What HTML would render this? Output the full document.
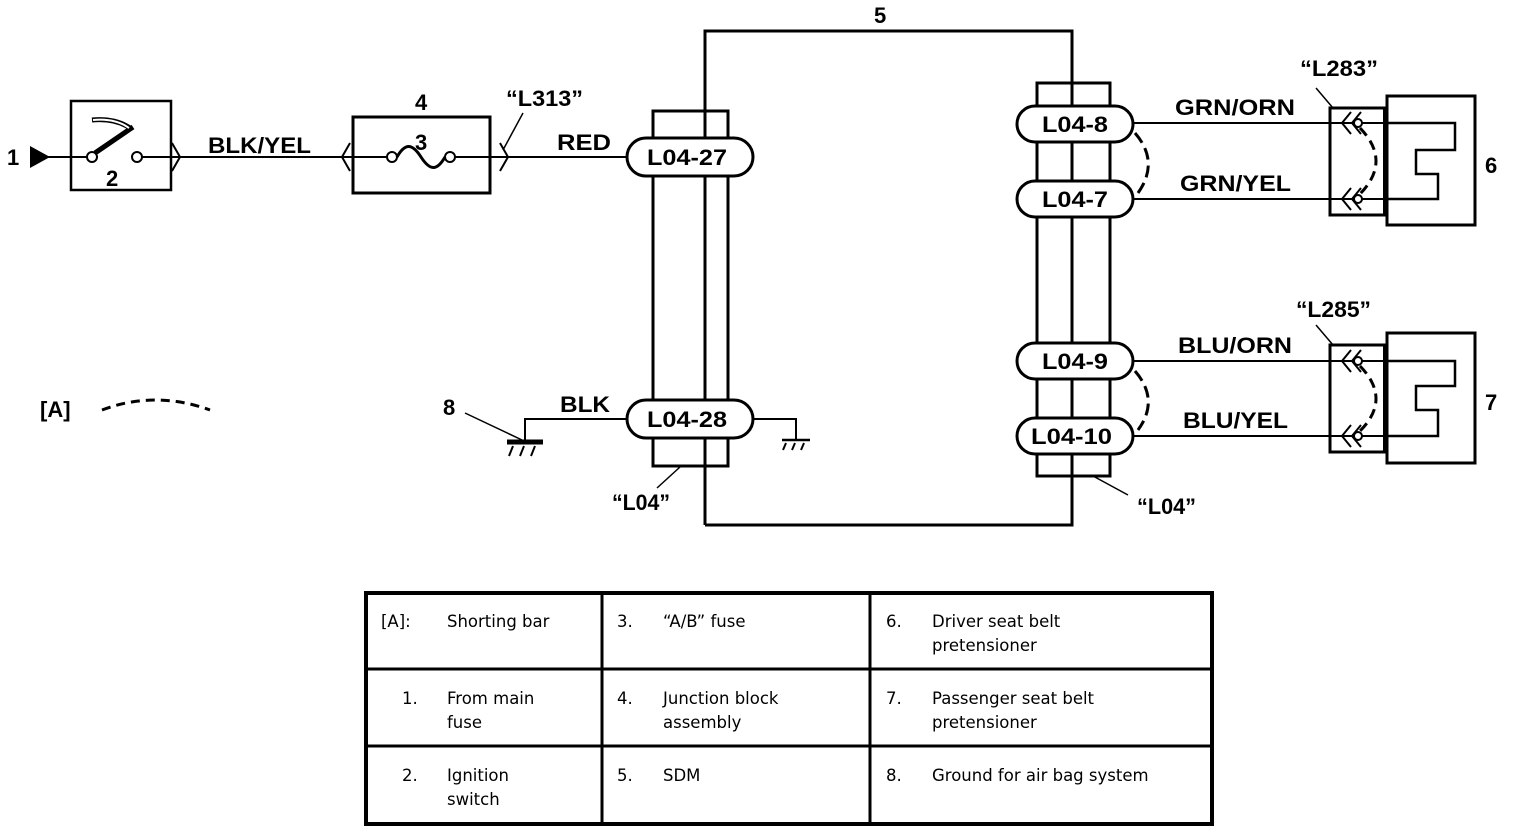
<!DOCTYPE html>
<html><head><meta charset="utf-8"><style>
html,body{margin:0;padding:0;background:#fff;}
svg{display:block;}
.t{font-family:"Liberation Sans",Arial,sans-serif;font-weight:bold;fill:#000;}
.tb{font-family:"DejaVu Sans",Verdana,sans-serif;font-size:16.5px;fill:#000;}
</style></head><body>
<svg width="1520" height="834" viewBox="0 0 1520 834" xmlns="http://www.w3.org/2000/svg">
<g fill="none" stroke="#000" stroke-width="2">
<!-- input -->
<polygon points="30,146 50,157 30,168" fill="#000" stroke="none"/>
<line x1="48" y1="157" x2="88" y2="157"/>
<line x1="142" y1="157" x2="387" y2="157"/>
<rect x="71" y="101" width="100" height="89" stroke-width="2.5"/>
<circle cx="92" cy="157" r="5" fill="#fff"/>
<circle cx="137" cy="157" r="5" fill="#fff"/>
<line x1="95" y1="153" x2="133" y2="127" stroke-width="5"/>
<path d="M92,120 Q115,118 130,128" stroke-width="5"/>
<path d="M93,120 Q115,118 129,128" stroke="#fff" stroke-width="2"/>
<polyline points="172,143 180,157 172,171"/>
<!-- fuse box -->
<polyline points="350,143 342,157 350,171"/>
<rect x="353" y="117" width="137" height="76" stroke-width="3"/>
<line x1="455" y1="157" x2="627" y2="157"/>
<circle cx="392" cy="157" r="5" fill="#fff"/>
<circle cx="450" cy="157" r="5" fill="#fff"/>
<path d="M397,157 C405,143 412,143 421,157 C430,171 437,171 445,157" stroke-width="3"/>
<polyline points="500,143 508,157 500,171"/>
<line x1="503" y1="150" x2="523" y2="113" stroke-width="1.5"/>
<!-- SDM frame -->
<polyline points="705,525 705,31 1072,31 1072,525 705,525" stroke-width="3"/>
<rect x="653" y="111" width="75" height="355" stroke-width="3" fill="none"/>
<rect x="1037" y="83" width="73" height="393" stroke-width="3" fill="none"/>
<rect x="627" y="138" width="126" height="38" rx="19" fill="#fff" stroke-width="3"/>
<rect x="627" y="400" width="126" height="38" rx="19" fill="#fff" stroke-width="3"/>
<!-- grounds -->
<polyline points="627,419 525,419 525,442"/>
<line x1="507" y1="442" x2="543" y2="442" stroke-width="5"/>
<line x1="513" y1="446" x2="509" y2="456"/><line x1="524" y1="446" x2="520" y2="456"/><line x1="535" y1="446" x2="531" y2="456"/>
<line x1="465" y1="413" x2="522" y2="440" stroke-width="1.5"/>
<polyline points="753,419 796,419 796,440"/>
<line x1="782" y1="440" x2="810" y2="440" stroke-width="2.5"/>
<line x1="786" y1="443" x2="783" y2="450"/><line x1="795" y1="443" x2="792" y2="450"/><line x1="804" y1="443" x2="801" y2="450"/>
<line x1="680" y1="467" x2="657" y2="488" stroke-width="1.5"/>
<line x1="1093" y1="476" x2="1128" y2="495" stroke-width="1.5"/>
<!-- right wires -->
<line x1="1133" y1="123" x2="1455" y2="123"/>
<line x1="1133" y1="199" x2="1438" y2="199"/>
<line x1="1133" y1="361" x2="1455" y2="361"/>
<line x1="1133" y1="436" x2="1438" y2="436"/>
<rect x="1017" y="106" width="116" height="36" rx="18" fill="#fff" stroke-width="3"/>
<rect x="1017" y="181" width="116" height="36" rx="18" fill="#fff" stroke-width="3"/>
<rect x="1017" y="343" width="116" height="36" rx="18" fill="#fff" stroke-width="3"/>
<rect x="1017" y="418" width="116" height="36" rx="18" fill="#fff" stroke-width="3"/>
<path d="M1135,133 Q1160,162 1138,193" stroke-width="3" stroke-dasharray="12,6"/>
<path d="M1135,371 Q1160,400 1138,430" stroke-width="3" stroke-dasharray="12,6"/>
<!-- connectors -->
<rect x="1330" y="108" width="55" height="107" stroke-width="3"/>
<line x1="1385" y1="108" x2="1385" y2="215" stroke-width="4"/>
<rect x="1330" y="345" width="55" height="107" stroke-width="3"/>
<line x1="1385" y1="345" x2="1385" y2="452" stroke-width="4"/>
<line x1="1316" y1="88" x2="1333" y2="108" stroke-width="1.5"/>
<line x1="1316" y1="325" x2="1333" y2="345" stroke-width="1.5"/>
<g id="ch">
<polyline points="1351,112 1342,123 1351,134"/>
<polyline points="1361,112 1352,123 1361,134"/>
<circle cx="1358" cy="123" r="4" fill="#fff"/>
</g>
<use href="#ch" y="76"/><use href="#ch" y="238"/><use href="#ch" y="313"/>
<path d="M1360,128 Q1392,161 1360,194" stroke-width="3" stroke-dasharray="10,6"/>
<path d="M1360,366 Q1392,399 1360,431" stroke-width="3" stroke-dasharray="10,6"/>
<!-- devices -->
<rect x="1387" y="96" width="88" height="129" stroke-width="3"/>
<polyline points="1385,123 1455,123 1455,150 1416,150 1416,174 1438,174 1438,199 1385,199" stroke-width="2.5"/>
<rect x="1387" y="333" width="88" height="130" stroke-width="3"/>
<polyline points="1385,361 1455,361 1455,386 1416,386 1416,410 1438,410 1438,436 1385,436" stroke-width="2.5"/>
<path d="M102,410 Q155,390 210,410" stroke-width="3" stroke-dasharray="9,6"/>
<!-- table -->
<rect x="366" y="593" width="846" height="231" stroke-width="4"/>
<line x1="602" y1="593" x2="602" y2="824" stroke-width="3"/>
<line x1="870" y1="593" x2="870" y2="824" stroke-width="3"/>
<line x1="366" y1="669" x2="1212" y2="669" stroke-width="3"/>
<line x1="366" y1="746" x2="1212" y2="746" stroke-width="3"/>
</g>
<g class="t" font-size="22">
<text x="7" y="165">1</text>
<text x="106" y="186">2</text>
<text x="415" y="110">4</text>
<text x="415" y="150">3</text>
<text x="208" y="153" textLength="103" lengthAdjust="spacingAndGlyphs">BLK/YEL</text>
<text x="506" y="106" textLength="77" lengthAdjust="spacingAndGlyphs">“L313”</text>
<text x="557" y="150" textLength="54" lengthAdjust="spacingAndGlyphs">RED</text>
<text x="874" y="23">5</text>
<text x="647" y="165" textLength="80" lengthAdjust="spacingAndGlyphs">L04-27</text>
<text x="647" y="427" textLength="80" lengthAdjust="spacingAndGlyphs">L04-28</text>
<text x="560" y="412" textLength="50" lengthAdjust="spacingAndGlyphs">BLK</text>
<text x="443" y="415">8</text>
<text x="612" y="510" textLength="58" lengthAdjust="spacingAndGlyphs">“L04”</text>
<text x="1137" y="514" textLength="59" lengthAdjust="spacingAndGlyphs">“L04”</text>
<text x="40" y="417">[A]</text>
<text x="1042" y="132" textLength="66" lengthAdjust="spacingAndGlyphs">L04-8</text>
<text x="1042" y="207" textLength="66" lengthAdjust="spacingAndGlyphs">L04-7</text>
<text x="1042" y="369" textLength="66" lengthAdjust="spacingAndGlyphs">L04-9</text>
<text x="1031" y="444" textLength="81" lengthAdjust="spacingAndGlyphs">L04-10</text>
<text x="1175" y="115" textLength="120" lengthAdjust="spacingAndGlyphs">GRN/ORN</text>
<text x="1180" y="191" textLength="111" lengthAdjust="spacingAndGlyphs">GRN/YEL</text>
<text x="1178" y="353" textLength="114" lengthAdjust="spacingAndGlyphs">BLU/ORN</text>
<text x="1183" y="428" textLength="105" lengthAdjust="spacingAndGlyphs">BLU/YEL</text>
<text x="1300" y="76" textLength="78" lengthAdjust="spacingAndGlyphs">“L283”</text>
<text x="1296" y="317" textLength="75" lengthAdjust="spacingAndGlyphs">“L285”</text>
<text x="1485" y="173">6</text>
<text x="1485" y="410">7</text>
</g>
<g class="tb">
<text x="381" y="627">[A]:</text><text x="447" y="627">Shorting bar</text>
<text x="617" y="627">3.</text><text x="663" y="627">“A/B” fuse</text>
<text x="886" y="627">6.</text><text x="932" y="627">Driver seat belt</text><text x="932" y="651">pretensioner</text>
<text x="402" y="704">1.</text><text x="447" y="704">From main</text><text x="447" y="728">fuse</text>
<text x="617" y="704">4.</text><text x="663" y="704">Junction block</text><text x="663" y="728">assembly</text>
<text x="886" y="704">7.</text><text x="932" y="704">Passenger seat belt</text><text x="932" y="728">pretensioner</text>
<text x="402" y="781">2.</text><text x="447" y="781">Ignition</text><text x="447" y="805">switch</text>
<text x="617" y="781">5.</text><text x="663" y="781">SDM</text>
<text x="886" y="781">8.</text><text x="932" y="781">Ground for air bag system</text>
</g>
</svg>
</body></html>
